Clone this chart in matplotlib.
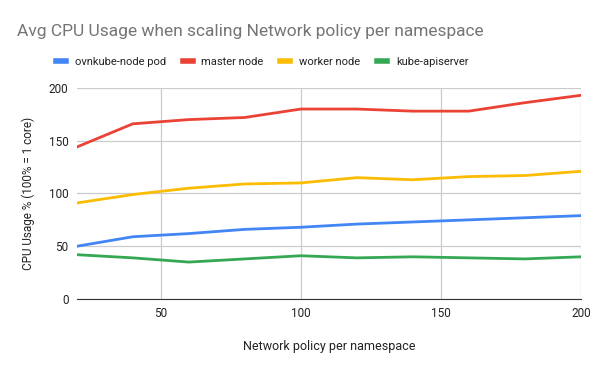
import numpy as np
import matplotlib.pyplot as plt

policies = [20, 40, 60, 80, 100, 120, 140, 160, 180, 200]
ovnkube_node = [50, 59, 62, 66, 68, 71, 73, 75, 77, 79]
master_node = [144, 166, 170, 172, 180, 180, 178, 178, 186, 193]
worker_node = [91, 99, 105, 109, 110, 115, 113, 116, 117, 121]
kube_apiserver = [42, 39, 35, 38, 41, 39, 40, 39, 38, 40]

plt.rcParams['font.family'] = ['Roboto', 'DejaVu Sans']

fig = plt.figure(figsize=(6, 3.71), dpi=100)
ax = fig.add_axes([0.128, 0.194, 0.84, 0.569])

ax.plot(policies, ovnkube_node, c='#4285F4', lw=2, label='ovnkube-node pod')
ax.plot(policies, master_node, c='#EA4335', lw=2, label='master node')
ax.plot(policies, worker_node, c='#FBBC04', lw=2, label='worker node')
ax.plot(policies, kube_apiserver, c='#34A853', lw=2, label='kube-apiserver')

ax.set_xlim(20, 200)
ax.set_ylim(0, 200)
ax.set_xticks([50, 100, 150, 200])
ax.set_yticks([0, 50, 100, 150, 200])
ax.grid(color='#cccccc', lw=0.9)
ax.set_axisbelow(True)
for s in ['top', 'right', 'left']:
    ax.spines[s].set_visible(False)
ax.spines['bottom'].set_color('#333333')
ax.tick_params(length=0, labelsize=8.5, colors='#222222', pad=6)

ax.set_xlabel("Network policy per namespace", fontsize=9, color='#222222', labelpad=14)
ax.set_ylabel("CPU Usage % (100% = 1 core)", fontsize=8.5, color='#222222', labelpad=10)

fig.text(0.028, 0.915, "Avg CPU Usage when scaling Network policy per namespace",
         fontsize=12.5, color='#757575', va='center')
fig.legend(loc='center', bbox_to_anchor=(0.437, 0.833), ncol=4, frameon=False,
           fontsize=8, handlelength=0.9, handletextpad=0.8, columnspacing=1.5,
           labelcolor='#222222')
for h in fig.legends[0].legend_handles:
    h.set_linewidth(4)

plt.savefig("out.png", dpi=100)
